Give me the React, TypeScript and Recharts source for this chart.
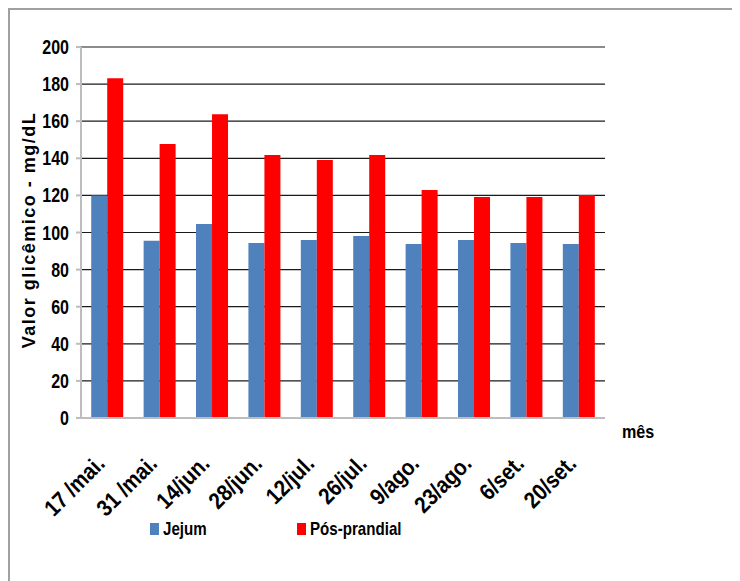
import React from "react";
import { BarChart, Bar, XAxis, YAxis, CartesianGrid } from "recharts";

const categories = [
  "17 /mai.",
  "31 /mai.",
  "14/jun.",
  "28/jun.",
  "12/jul.",
  "26/jul.",
  "9/ago.",
  "23/ago.",
  "6/set.",
  "20/set.",
];
const jejum = [120, 95.5, 104.6, 94.3, 96, 98.1, 93.8, 96, 94.3, 93.8];
const posPrandial = [183.2, 147.7, 163.8, 141.8, 139.1, 141.8, 122.9, 119.2, 119.2, 120.2];
const yTicks = [0, 20, 40, 60, 80, 100, 120, 140, 160, 180, 200];

const series = [
  { key: "jejum", name: "Jejum", color: "#4F81BD" },
  { key: "pos", name: "Pós-prandial", color: "#FF0000" },
];

const data = categories.map((c, i) => ({ cat: c, jejum: jejum[i], pos: posPrandial[i] }));

const FONT = "'Liberation Sans', Arial, sans-serif";
// the original uses a narrow bold face, squeeze the regular one
const SQUEEZE = 0.8;

const XTick = (props: any) => {
  const { x, y, payload } = props;
  return (
    <g transform={`translate(${x - 1},${y + 47})`}>
      <text
        transform={`rotate(-45) scale(0.88,1)`}
        textAnchor="end"
        fontFamily={FONT}
        fontWeight="bold"
        fontSize={23}
        fill="#000"
      >
        {payload.value}
      </text>
    </g>
  );
};

const YTick = (props: any) => {
  const { x, y, payload } = props;
  return (
    <g transform={`translate(${x},${y})`}>
      <text
        transform={`scale(${SQUEEZE},1)`}
        textAnchor="end"
        dy={7}
        fontFamily={FONT}
        fontWeight="bold"
        fontSize={20}
        fill="#000"
      >
        {payload.value}
      </text>
    </g>
  );
};

export default function App() {
  return (
    <div style={{ position: "relative", width: 732, height: 573 }}>
      <div
        style={{
          position: "absolute",
          left: 0,
          top: 0,
          width: 732,
          height: 573,
          borderTop: "2px solid #a0a0a0",
          borderLeft: "2px solid #a0a0a0",
          boxSizing: "border-box",
        }}
      />
      <BarChart
        width={732}
        height={573}
        data={data}
        margin={{ top: 39, right: 135, left: 13, bottom: 63 }}
        barCategoryGap="19.5%"
        barGap={0}
      >
        <CartesianGrid vertical={false} stroke="#1a1a1a" strokeWidth={1.2} />
        <XAxis
          dataKey="cat"
          height={100}
          interval={0}
          tickLine={false}
          tickSize={0}
          tickMargin={0}
          stroke="#bdbdbd"
          strokeWidth={2}
          tick={<XTick />}
        />
        <YAxis
          width={60}
          domain={[0, 200]}
          ticks={yTicks}
          interval={0}
          tickSize={5}
          tickMargin={7}
          stroke="#bdbdbd"
          strokeWidth={2}
          tick={<YTick />}
        />
        {series.map((s) => (
          <Bar key={s.key} dataKey={s.key} name={s.name} fill={s.color} isAnimationActive={false} />
        ))}
      </BarChart>
      <svg
        width={732}
        height={573}
        style={{ position: "absolute", left: 0, top: 0, pointerEvents: "none" }}
      >
        <text
          transform="translate(27,222) rotate(-90)"
          textAnchor="middle"
          fontFamily={FONT}
          fontWeight="bold"
          fontSize={18}
          letterSpacing={1.5}
          fill="#000"
        >
          Valor glicêmico - mg/dL
        </text>
        <text
          transform={`translate(614,430) scale(0.85,1)`}
          fontFamily={FONT}
          fontWeight="bold"
          fontSize={19}
          fill="#000"
        >
          mês
        </text>
        {series.map((s, i) => {
          const lx = i === 0 ? 142 : 289;
          return (
            <g key={s.key}>
              <rect x={lx} y={515} width={9} height={12} fill={s.color} />
              <text
                transform={`translate(${lx + 13},527) scale(0.84,1)`}
                fontFamily={FONT}
                fontWeight="bold"
                fontSize={18}
                fill="#000"
              >
                {s.name}
              </text>
            </g>
          );
        })}
      </svg>
    </div>
  );
}
